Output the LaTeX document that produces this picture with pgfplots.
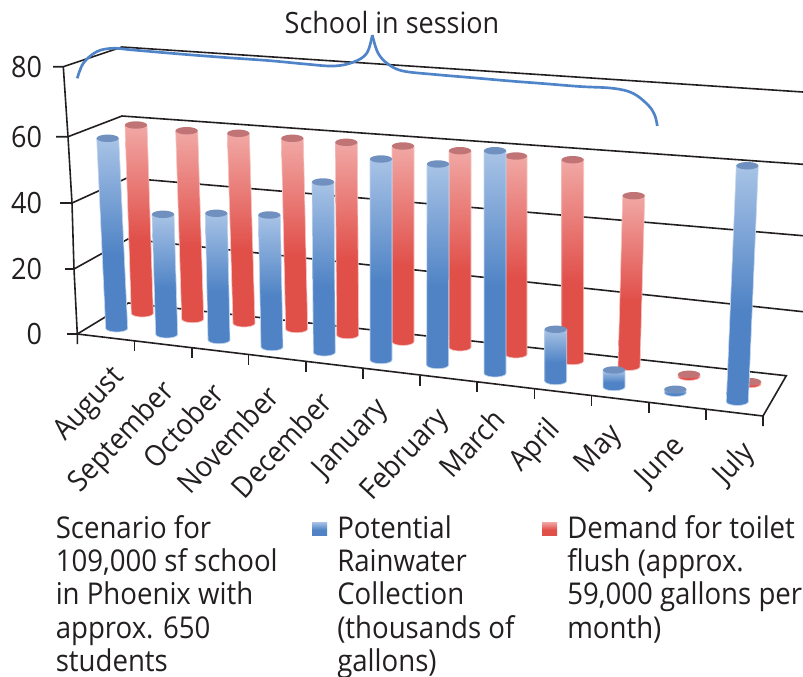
\documentclass[border=0pt]{standalone}
\usepackage{fontspec}
\usepackage{pgfplots}
\pgfplotsset{compat=1.18}
\setmainfont[FakeStretch=0.92]{Open Sans}
\definecolor{ink}{HTML}{231F20}
\definecolor{bsolid}{HTML}{4F83C5}
\definecolor{blight}{HTML}{A8C3E6}
\definecolor{bcap}{HTML}{7090C0}
\definecolor{bedge}{HTML}{C4D6EE}
\definecolor{rsolid}{HTML}{E14F49}
\definecolor{rlight}{HTML}{F1A8A5}
\definecolor{rcap}{HTML}{C07476}
\definecolor{redge}{HTML}{F6C4C2}
\definecolor{brace}{HTML}{5084C8}
\pgfdeclareverticalshading{bbar}{100bp}{color(0bp)=(bsolid); color(25bp)=(bsolid); color(45bp)=(bsolid); color(75bp)=(blight); color(100bp)=(blight)}
\pgfdeclareverticalshading{rbar}{100bp}{color(0bp)=(rsolid); color(25bp)=(rsolid); color(45bp)=(rsolid); color(75bp)=(rlight); color(100bp)=(rlight)}
% one cylinder: top centre x, top centre y, bottom centre x, bottom centre y, series (b or r)
\newcommand{\cyl}[5]{%
  \pgfmathsetmacro\xl{#1-11}\pgfmathsetmacro\xr{#1+11}%
  \gdef\pts{(\xl,#2) }%
  \foreach \a in {180,165,...,0}{%
    \pgfmathsetmacro\px{#3+11*cos(\a)}\pgfmathsetmacro\py{#4+3.7*sin(\a)}%
    \xdef\pts{\pts(\px,\py) }}%
  \xdef\pts{\pts(\xr,#2) }%
  \edef\doit{\noexpand\addplot[shading=#5bar,draw=#5edge,line width=0.5pt,forget plot] coordinates {\pts} --cycle;}\doit
  \gdef\pts{}%
  \foreach \a in {0,15,...,345}{%
    \pgfmathsetmacro\px{#1+11*cos(\a)}\pgfmathsetmacro\py{#2+3.7*sin(\a)}%
    \xdef\pts{\pts(\px,\py) }}%
  \edef\doit{\noexpand\addplot[fill=#5cap,draw=none,forget plot] coordinates {\pts} --cycle;}\doit
}
\def\ly{{373,387,388,391,397,405,414,414,425,431,442,448}}
\begin{document}
\begin{tikzpicture}
\path[use as bounding box] (0,0) rectangle (602.25pt,507pt);
\begin{axis}[
  at={(0,0)},anchor=south west,
  scale only axis,width=602.25pt,height=507pt,
  xmin=0,xmax=803,ymin=0,ymax=676,y dir=reverse,clip=false,
  axis line style={draw=none},tick style={draw=none},major tick length=0pt,
  ytick={66.7,136.7,203,269,334},yticklabels={80,60,40,20,0},
  xtick={120,170,218,273,326,384,444,499,556,618,680,750},
  xticklabels={August,September,October,November,December,January,February,March,April,May,June,July},
  tick label style={font=\fontsize{22}{22}\selectfont,text=ink,inner sep=0pt,outer sep=0pt},
  yticklabel style={anchor=east,xshift=31.5pt},
  xticklabel style={yshift={(676-\ly[\ticknum])*0.75pt},rotate=47,anchor=east},
]
% side walls, back wall, floor
\addplot[ink,line width=1.2pt,forget plot] coordinates {(53,66.7)(63.3,66.7)(122,47)(803,92)};
\addplot[ink,line width=1.2pt,forget plot] coordinates {(56,136.7)(68,136.7)(122,116)(803,164.3)};
\addplot[ink,line width=1.2pt,forget plot] coordinates {(60,203)(72,203)(127,178)(803,235.7)};
\addplot[ink,line width=1.2pt,forget plot] coordinates {(65,269)(74,269)(128,239)(803,311.7)};
\addplot[ink,line width=1.2pt,forget plot] coordinates {(67,334)(77.3,334)(128.3,303)(786.3,375.7)(763,416)(763,426)};
\addplot[ink,line width=1.2pt,forget plot] coordinates {(63.3,66.7)(68,136.7)(72,203)(74,269)(77.3,334)(77.3,344)};
\addplot[ink,line width=1.2pt,forget plot] coordinates {(77.3,334)(763,416)};
\addplot[ink,line width=1.2pt,forget plot] coordinates {(134.3,341) (134.3,351)};
\addplot[ink,line width=1.2pt,forget plot] coordinates {(191.7,348) (191.7,358)};
\addplot[ink,line width=1.2pt,forget plot] coordinates {(248.3,355) (248.3,365)};
\addplot[ink,line width=1.2pt,forget plot] coordinates {(305.7,362) (305.7,372)};
\addplot[ink,line width=1.2pt,forget plot] coordinates {(362.7,369) (362.7,379)};
\addplot[ink,line width=1.2pt,forget plot] coordinates {(420,375.5) (420,385.5)};
\addplot[ink,line width=1.2pt,forget plot] coordinates {(477,382) (477,392)};
\addplot[ink,line width=1.2pt,forget plot] coordinates {(534.5,389) (534.5,399)};
\addplot[ink,line width=1.2pt,forget plot] coordinates {(591.3,396) (591.3,406)};
\addplot[ink,line width=1.2pt,forget plot] coordinates {(648.7,403) (648.7,413)};
\addplot[ink,line width=1.2pt,forget plot] coordinates {(705.7,410) (705.7,420)};
% demand series
\cyl{136}{125}{142.3}{313.3}{r}
\cyl{186.7}{130.7}{192.7}{319}{r}
\cyl{238.3}{133.3}{244}{323.3}{r}
\cyl{292.3}{138.3}{296.7}{329}{r}
\cyl{346.3}{142.3}{347.7}{335}{r}
\cyl{403}{146}{403}{341.7}{r}
\cyl{460}{150.7}{460}{347.3}{r}
\cyl{516}{156}{516}{354.3}{r}
\cyl{572.7}{159.7}{572.7}{361}{r}
\cyl{633.7}{195.7}{629}{366.7}{r}
\cyl{689}{374.3}{689}{376.7}{r}
\cyl{750}{381.7}{750}{384}{r}
% rainwater series
\cyl{107.7}{138.3}{116.7}{328.3}{b}
\cyl{163}{214.3}{166.7}{334.3}{b}
\cyl{216.3}{213.3}{219}{340}{b}
\cyl{269.3}{215}{272}{347}{b}
\cyl{323}{182}{324.3}{352.3}{b}
\cyl{381}{159}{381}{360}{b}
\cyl{438}{164}{437.7}{365}{b}
\cyl{495}{150.7}{495}{373.3}{b}
\cyl{555.7}{329.3}{555.7}{381}{b}
\cyl{614}{370}{614}{387}{b}
\cyl{675.3}{389.3}{675.3}{392.7}{b}
\cyl{747.3}{165.7}{737.3}{401.7}{b}
% brace
\addplot[brace,line width=2pt,smooth,tension=0.6,forget plot] coordinates {(77.3,78.3)(83.3,63.3)(96.7,51.7)(113,48.3)(133,50)(180,54)(225,57.5)(270,60.7)(305,64)(333.3,66)(353,62.3)(366.7,53.3)(372.3,35)};
\addplot[brace,line width=2pt,smooth,tension=0.6,forget plot] coordinates {(372.3,35)(378,53)(388,64)(403,71)(435,74.5)(470,77.5)(510,81)(540,83.3)(580,86.5)(613,88.3)(633,93.3)(648,105)(654.7,115)(657.3,126)};
% legend keys
\addplot[shading=bbar,draw=none,forget plot] coordinates {(312,522)(327,522)(327,535)(312,535)} --cycle;
\addplot[shading=rbar,draw=none,forget plot] coordinates {(542,522)(557,522)(557,535)(542,535)} --cycle;
\node[text=ink,font=\fontsize{22}{22}\selectfont] at (axis cs:392,22) {School in session};
\node[text=ink,font=\fontsize{22.5}{25}\selectfont,anchor=north west,align=left,inner sep=0pt] at (axis cs:55.5,515) {Scenario for\\109,000 sf school\\in Phoenix with\\approx. 650\\students};
\node[text=ink,font=\fontsize{22.5}{25}\selectfont,anchor=north west,align=left,inner sep=0pt] at (axis cs:337,515) {Potential\\Rainwater\\Collection\\(thousands of\\gallons)};
\node[text=ink,font=\fontsize{22.5}{25}\selectfont,anchor=north west,align=left,inner sep=0pt] at (axis cs:567,515) {Demand for toilet\\flush (approx.\\59,000 gallons per\\month)};
\end{axis}
\end{tikzpicture}
\end{document}
